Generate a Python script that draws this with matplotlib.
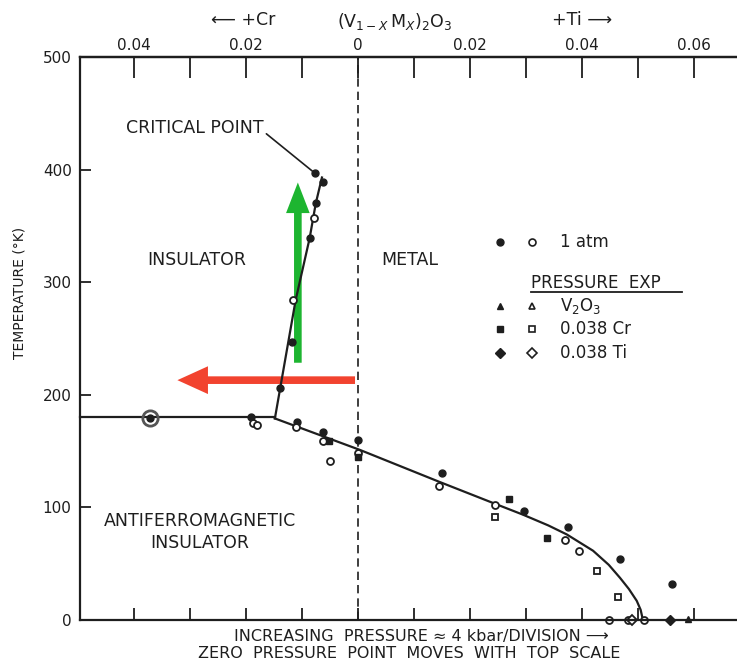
import matplotlib.pyplot as plt
from matplotlib.patches import FancyArrowPatch

# composition x: negative = Cr doping, positive = Ti doping
top_ticks = [-0.04, -0.03, -0.02, -0.01, 0.0, 0.01, 0.02, 0.03, 0.04, 0.05, 0.06]
top_labels = ['0.04', '', '0.02', '', '0', '', '0.02', '', '0.04', '', '0.06']
temp_ticks = [0, 100, 200, 300, 400, 500]

# phase boundaries
afi_ins_x = [-0.0496, -0.0148]
afi_ins_T = [180, 180]
ins_metal_x = [-0.0148, -0.0111, -0.0086, -0.0075, -0.0064]
ins_metal_T = [179, 284, 339, 370, 393]
afi_metal_x = [-0.0148, 0.0004, 0.0146, 0.0241, 0.0295, 0.0340, 0.0373, 0.0420, 0.0448,
               0.0468, 0.0484, 0.0498, 0.0505, 0.0509]
afi_metal_T = [179, 151, 122.6, 104, 93.5, 84, 76, 61.5, 49, 37.5, 27.5, 17, 9, 0]

# 1 atm points
atm_fill_x = [-0.0077, -0.0062, -0.0075, -0.0086, -0.0118, -0.0138, -0.0190, -0.0109,
              -0.0063, 0.0, 0.0150, 0.0296, 0.0375, 0.0468, 0.0561, -0.0371]
atm_fill_T = [397, 389, 370, 339, 247, 206, 180, 176, 167, 160, 130.5, 97, 82.6, 54, 32, 179]
atm_open_x = [-0.0079, -0.0116, -0.0187, -0.0180, -0.0111, -0.0063, -0.0050, 0.0,
              0.0145, 0.0245, 0.0370, 0.0395, 0.0448, 0.0482, 0.0511]
atm_open_T = [357, 284, 175, 173, 171, 159, 141, 148, 119, 102, 71, 61, 0, 0, 0]
# pressure experiments
cr_fill_x = [-0.0052, 0.0, 0.0270, 0.0338]
cr_fill_T = [159, 145, 107, 73]
cr_open_x = [0.0245, 0.0427, 0.0464]
cr_open_T = [91.5, 43.5, 20]
ti_fill_x = [0.0557]
ti_fill_T = [0]
ti_open_x = [0.0490]
ti_open_T = [0]
v2o3_fill_x = [0.0589]
v2o3_fill_T = [1]

ink = '#1e1e1e'
plt.rcParams['font.family'] = ['DejaVu Sans']

fig = plt.figure(figsize=(7.37, 6.63), dpi=100)
ax = fig.add_axes([0.1085, 0.0649, 0.8915, 0.8491])
ax.set_xlim(-0.0496, 0.0677)
ax.set_ylim(0, 500)

ax.plot(afi_ins_x, afi_ins_T, color=ink, lw=1.6, clip_on=False)
ax.plot(ins_metal_x, ins_metal_T, color=ink, lw=1.6)
ax.plot(afi_metal_x, afi_metal_T, color=ink, lw=1.6, clip_on=False)
ax.axvline(0, color=ink, lw=1.2, ls=(0, (5, 3)))

ms = 5
ax.plot(atm_fill_x, atm_fill_T, 'o', color=ink, ms=ms, clip_on=False)
ax.plot(atm_open_x, atm_open_T, 'o', mfc='white', mec=ink, mew=1.3, ms=ms, clip_on=False)
ax.plot([atm_fill_x[-1]], [atm_fill_T[-1]], 'o', mfc='none', mec='#555555', mew=2, ms=11)
ax.plot(cr_fill_x, cr_fill_T, 's', color=ink, ms=ms, clip_on=False)
ax.plot(cr_open_x, cr_open_T, 's', mfc='white', mec=ink, mew=1.3, ms=ms, clip_on=False)
ax.plot(ti_fill_x, ti_fill_T, 'D', color=ink, ms=ms, clip_on=False)
ax.plot(ti_open_x, ti_open_T, 'D', mfc='white', mec=ink, mew=1.3, ms=ms, clip_on=False)
ax.plot(v2o3_fill_x, v2o3_fill_T, '^', color=ink, ms=ms, clip_on=False)

# axes styling
for s in ['left', 'top', 'bottom']:
    ax.spines[s].set_linewidth(1.6)
    ax.spines[s].set_color(ink)
ax.spines['right'].set_visible(False)
ax.set_yticks(temp_ticks)
ax.tick_params(axis='y', direction='in', length=8, width=1.3, labelsize=11, colors=ink, pad=6)
ax.set_xticks(top_ticks)
ax.set_xticklabels([])
ax.tick_params(axis='x', direction='in', length=9, width=1.3, colors=ink)
top = ax.secondary_xaxis('top')
top.set_xticks(top_ticks)
top.set_xticklabels(top_labels)
top.tick_params(direction='in', length=15, width=1.3, labelsize=11, colors=ink, pad=3)
top.spines['top'].set_linewidth(1.6)

# region labels
kw = dict(fontsize=12.5, color=ink, ha='center', va='center')
ax.text(-0.0288, 320, 'INSULATOR', **kw)
ax.text(0.0093, 320, 'METAL', **kw)
ax.text(-0.0282, 78, 'ANTIFERROMAGNETIC\nINSULATOR', linespacing=1.25, **kw)
ax.annotate('CRITICAL POINT', xy=(-0.0077, 397), xytext=(-0.0291, 437),
            fontsize=12.5, color=ink, ha='center', va='center',
            arrowprops=dict(arrowstyle='-', color=ink, lw=1.2, shrinkA=0, shrinkB=0,
                            relpos=(1.0, 0.3)))

# legend block
lk = dict(transform=ax.transAxes, clip_on=False, ms=5)
def ax_pos(px, py):
    return (px - 80) / 657, (620 - py) / 563

rows = [(242, 'o', '1 atm'), (306, '^', r'V$_2$O$_3$'), (329, 's', '0.038 Cr'), (353, 'D', '0.038 Ti')]
for py, m, lab in rows:
    ax.plot(*ax_pos(500, py), m, color=ink, **lk)
    ax.plot(*ax_pos(532, py), m, mfc='white', mec=ink, mew=1.2, **lk)
    ax.text(*ax_pos(560, py), lab, transform=ax.transAxes, fontsize=12, color=ink, va='center')
ax.text(*ax_pos(531, 283), 'PRESSURE  EXP', transform=ax.transAxes, fontsize=12, color=ink, va='center')
ax.plot([ax_pos(531, 0)[0], ax_pos(682, 0)[0]], [ax_pos(0, 292)[1]] * 2, color=ink, lw=1.3,
        transform=ax.transAxes)

# overlay arrows
green = FancyArrowPatch((-0.0107, 226), (-0.0107, 391), mutation_scale=1,
                        arrowstyle='simple,tail_width=5.5,head_width=17,head_length=22',
                        color='#1db530', lw=0)
red = FancyArrowPatch((0.0, 213), (-0.0327, 213), mutation_scale=1,
                      arrowstyle='simple,tail_width=5.5,head_width=20,head_length=22',
                      color='#f2432f', lw=0)
ax.add_patch(green)
ax.add_patch(red)

# figure text
fig.text(20 / 737, 1 - 293 / 663, 'TEMPERATURE (°K)', rotation=90, fontsize=10,
         color=ink, ha='center', va='center')
fig.text(243 / 737, 1 - 20 / 663, '\u27f5 +Cr', fontsize=12.5, color=ink, ha='center', va='center')
fig.text(394 / 737, 1 - 22 / 663, r'$(\mathrm{V}_{1-X}\,\mathrm{M}_X)_2\mathrm{O}_3$', fontsize=12.5,
         color=ink, ha='center', va='center')
fig.text(582 / 737, 1 - 20 / 663, '+Ti \u27f6', fontsize=12.5, color=ink, ha='center', va='center')
fig.text(421 / 737, 1 - 636 / 663, 'INCREASING  PRESSURE \u2248 4 kbar/DIVISION \u27f6', fontsize=11.5,
         color=ink, ha='center', va='center')
fig.text(409 / 737, 1 - 653 / 663, 'ZERO  PRESSURE  POINT  MOVES  WITH  TOP  SCALE', fontsize=11.5,
         color=ink, ha='center', va='center')

fig.savefig('out.png', dpi=100)
